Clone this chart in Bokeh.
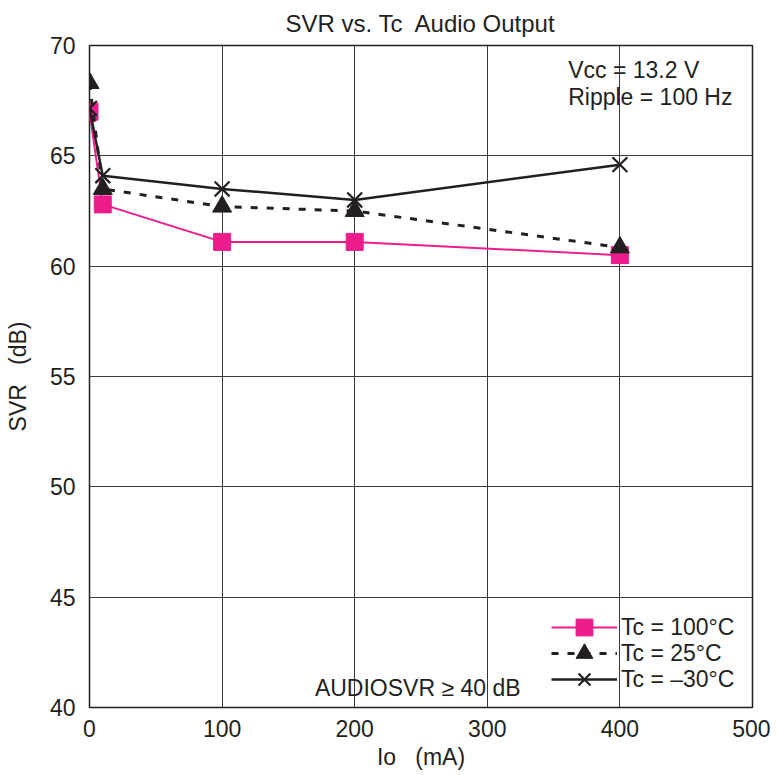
from bokeh.plotting import figure
from bokeh.models import Range1d, Label, Legend, LegendItem, FixedTicker
from bokeh.embed import file_html
from bokeh.resources import INLINE

io_ma = [0, 10, 100, 200, 400]
svr_100 = [67.0, 62.8, 61.1, 61.1, 60.5]
svr_25 = [68.3, 63.5, 62.7, 62.5, 60.85]
svr_m30 = [67.15, 64.1, 63.5, 63.0, 64.6]
x_ticks = [0, 100, 200, 300, 400, 500]
y_ticks = [40, 45, 50, 55, 60, 65, 70]
series_labels = ["Tc = 100°C", "Tc = 25°C", "Tc = \u201330°C"]

FONT = "Liberation Sans"
PINK = "#EC1C8C"
DARK = "#231F20"
FS = "23px"

p = figure(width=770, height=772, output_backend="svg", toolbar_location=None,
           x_range=Range1d(0, 500), y_range=Range1d(40, 70),
           title="SVR vs. Tc\u00a0 Audio Output",
           min_border_left=89, min_border_right=18, min_border_top=45, min_border_bottom=62)
p.title.align = "center"
p.title.vertical_align = "top"
p.title.text_font = FONT
p.title.text_font_size = "24px"
p.title.text_font_style = "normal"
p.title.text_color = DARK
p.title.standoff = 14

p.outline_line_color = DARK
p.outline_line_width = 1.5
p.background_fill_color = "white"
p.border_fill_color = "white"

for ax in (p.xaxis, p.yaxis):
    ax.axis_line_color = None
    ax.major_tick_line_color = None
    ax.minor_tick_line_color = None
    ax.major_label_text_font = FONT
    ax.major_label_text_font_size = FS
    ax.major_label_text_color = DARK
    ax.axis_label_text_font = FONT
    ax.axis_label_text_font_size = FS
    ax.axis_label_text_font_style = "normal"
    ax.axis_label_text_color = DARK
p.xaxis.ticker = FixedTicker(ticks=x_ticks)
p.yaxis.ticker = FixedTicker(ticks=y_ticks)
p.xaxis.axis_label = "Io\u00a0\u00a0 (mA)"
p.yaxis.axis_label = "SVR\u00a0\u00a0 (dB)"
p.xaxis.major_label_standoff = 6
p.yaxis.major_label_standoff = 8
p.xaxis.axis_label_standoff = 4
p.yaxis.axis_label_standoff = 16

p.xgrid.grid_line_color = "#3a3a3a"
p.ygrid.grid_line_color = "#3a3a3a"
p.xgrid.grid_line_width = 1
p.ygrid.grid_line_width = 1

l1 = p.line(io_ma, svr_100, line_color=PINK, line_width=2)
m1 = p.scatter(io_ma, svr_100, marker="square", size=17, fill_color=PINK, line_color=PINK)
l2 = p.line(io_ma, svr_25, line_color=DARK, line_width=3, line_dash="7 9")
m2 = p.scatter(io_ma, svr_25, marker="triangle", size=19, fill_color=DARK, line_color=DARK)
l3 = p.line(io_ma, svr_m30, line_color=DARK, line_width=2.5)
m3 = p.scatter(io_ma, svr_m30, marker="x", size=21, line_color=DARK, line_width=2.2)

# one legend per row so that large markers can sit on tightly spaced rows
for label, rends, yoff in zip(series_labels, [[l1, m1], [l2, m2], [l3, m3]], [59, 33, 7]):
    lg = Legend(items=[LegendItem(label=label, renderers=rends)], location=(462, yoff))
    lg.background_fill_alpha = 0
    lg.border_line_color = None
    lg.padding = 0
    lg.margin = 0
    lg.spacing = 0
    lg.glyph_width = 66
    lg.glyph_height = 42
    lg.label_height = 24
    lg.label_standoff = 4
    lg.label_text_font = FONT
    lg.label_text_font_size = FS
    lg.label_text_color = DARK
    p.add_layout(lg)

for txt, x, y in [("Vcc = 13.2 V", 361, 68.87), ("Ripple = 100 Hz", 361, 67.65),
                  ("AUDIOSVR \u2265 40 dB", 170, 40.9)]:
    p.add_layout(Label(x=x, y=y, text=txt, text_font=FONT, text_font_size=FS,
                       text_color=DARK, text_baseline="middle", text_align="left"))

open("out.html", "w").write(file_html(p, INLINE))
